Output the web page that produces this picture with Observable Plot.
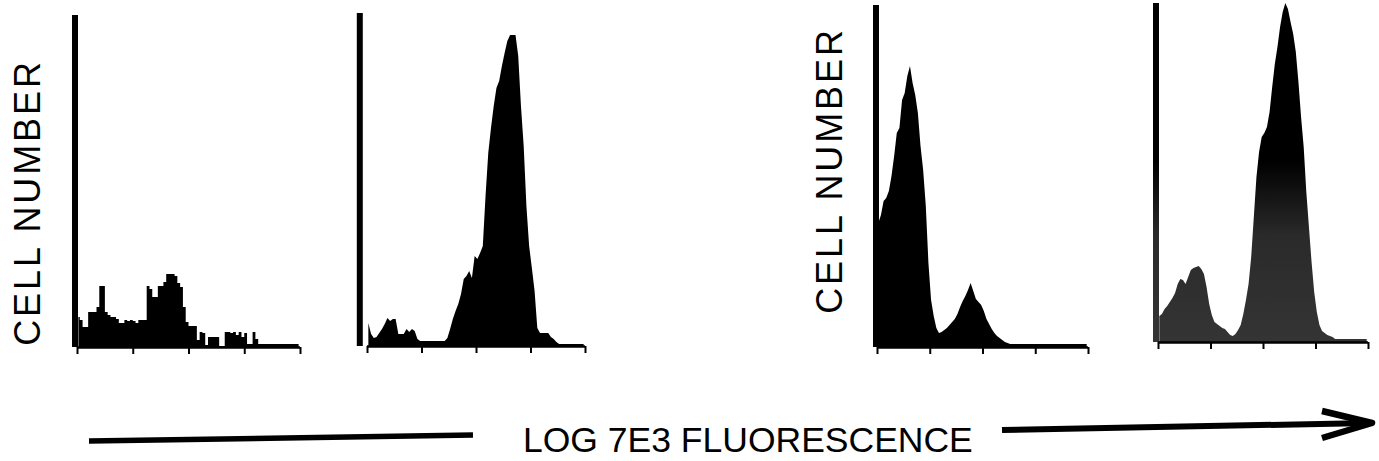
<!DOCTYPE html>
<html>
<head>
<meta charset="utf-8">
<script src="https://cdn.jsdelivr.net/npm/d3@7"></script>
<script src="https://cdn.jsdelivr.net/npm/@observablehq/plot@0.6"></script>
<style>
html, body { margin: 0; padding: 0; background: #fff; }
#chart { position: relative; width: 1379px; height: 461px; overflow: hidden; font-family: "Liberation Sans", Arial, Helvetica, sans-serif; }
#chart svg { position: absolute; left: 0; top: 0; }
</style>
</head>
<body>
<div id="chart"></div>
<script>
// ---- data ----
const binWidth = 0.05;                 // log decades per histogram channel
const tickDecades = [0, 1, 2, 3, 4];   // decade ticks on each x axis
const yLabel = "CELL NUMBER";
const xLabel = "LOG 7E3 FLUORESCENCE";
const fullScale = [332, 333, 342, 339]; // off-scale first channel (full y scale) per panel

const counts1 = [30, 27, 20, 20, 35, 35, 35, 40, 61, 61,
                 35, 32, 30, 30, 28, 24, 24, 27, 26, 27,
                 26, 24, 27, 27, 27, 61, 58, 50, 50, 61,
                 61, 65, 73, 73, 73, 71, 64, 60, 40, 25,
                 21, 21, 21, 7, 15, 14, 2, 10, 10, 10,
                 10, 1, 1, 15, 15, 14, 15, 12, 15, 10,
                 14, 3, 3, 15, 8, 3, 3, 3, 3, 3,
                 3, 3, 3, 3, 3, 3, 3, 3, 3, 3];

const counts2 = [23, 12, 8, 9, 13, 17, 22, 28, 25, 27,
                 27, 12, 12, 12, 17, 14, 17, 15, 7, 5,
                 5, 5, 5, 5, 5, 5, 5, 5, 5, 8,
                 17, 27, 35, 42, 52, 67, 70, 75, 68, 90,
                 87, 93, 100, 150, 193, 218, 240, 258, 265, 280,
                 293, 305, 311, 311, 311, 290, 240, 200, 140, 100,
                 78, 55, 18, 13, 13, 13, 13, 9, 7, 4,
                 2, 2, 2, 2, 2, 2, 2, 2, 2, 2];

const counts3 = [124, 132, 146, 149, 156, 171, 191, 214, 219, 247,
                 254, 271, 281, 264, 252, 234, 201, 177, 141, 84,
                 47, 31, 19, 14, 15, 17, 19, 22, 25, 28,
                 33, 40, 46, 51, 57, 64, 56, 48, 45, 42,
                 36, 28, 23, 18, 14, 11, 9, 7, 5, 4,
                 3, 3, 3, 3, 3, 3, 3, 3, 3, 3,
                 3, 3, 3, 3, 3, 3, 3, 3, 3, 3,
                 3, 3, 3, 3, 3, 3, 3, 3, 3, 3];

const counts4 = [26, 28, 33, 36, 40, 44, 49, 58, 63, 62,
                 58, 65, 72, 74, 75, 76, 73, 68, 55, 38,
                 27, 20, 18, 16, 14, 13, 10, 7, 6, 8,
                 12, 17, 28, 42, 58, 85, 125, 165, 190, 205,
                 209, 215, 230, 255, 278, 295, 315, 330, 339, 333,
                 320, 308, 290, 260, 225, 195, 150, 115, 80, 50,
                 30, 17, 11, 9, 7, 6, 5, 3, 3, 3,
                 3, 3, 3, 3, 3, 3, 3, 3, 3, 3];

// ---- layout (pixels) ----
const W = 1379, PH = 380;
const layout = [
  {x0: 77,   x1: 300,  top: 15, base: 347, ruleDx: -2.5, curve: "step",   fill: "black", labelDx: -49.5, labelDy: 21},
  {x0: 367,  x1: 585,  top: 13, base: 346, ruleDx: -7.7, curve: "linear", fill: "black", labelDx: null},
  {x0: 877,  x1: 1088, top: 5,  base: 347, ruleDx: -1.5, curve: "linear", fill: "black", labelDx: -47, labelDy: -6},
  {x0: 1158, x1: 1368, top: 3,  base: 342, ruleDx: -2.5, curve: "linear", fill: "url(#p4shade)", labelDx: null}
];
const panels = [counts1, counts2, counts3, counts4];
const chart = document.getElementById("chart");
const FONT = "'Liberation Sans', Arial, Helvetica, sans-serif";

panels.forEach((counts, p) => {
  const L = layout[p];
  const marks = [
    Plot.areaY(counts, {x: (d, i) => (i + 0.5) * binWidth, y: d => d, curve: L.curve, fill: L.fill}),
    Plot.ruleX([0], {y1: 0, y2: fullScale[p], dx: L.ruleDx, stroke: L.fill, strokeWidth: 6}),
    Plot.ruleY([0], {stroke: "black", strokeWidth: 2.5}),
    Plot.axisX(tickDecades, {anchor: "bottom", tickSize: 7, tickFormat: () => "", label: null, strokeWidth: 2, stroke: "black"})
  ];
  if (L.labelDx != null) {
    marks.push(Plot.text([yLabel], {
      frameAnchor: "left", text: d => d, rotate: -90,
      dx: L.labelDx, dy: L.labelDy, fontSize: 36,
      textAnchor: "middle", lineAnchor: "middle", fill: "black"
    }));
  }
  const svg = Plot.plot({
    width: W, height: PH,
    marginLeft: L.x0, marginRight: W - L.x1,
    marginTop: L.top, marginBottom: PH - L.base,
    x: {domain: [0, 4], axis: null},
    y: {domain: [0, fullScale[p]], axis: null},
    style: {background: "transparent", fontFamily: FONT, overflow: "visible"},
    marks
  });
  d3.select(svg).selectAll("text").attr("letter-spacing", 2.9);
  if (p === 3) {
    const g = d3.select(svg).insert("defs", ":first-child")
      .append("linearGradient").attr("id", "p4shade")
      .attr("gradientUnits", "userSpaceOnUse")
      .attr("x1", 0).attr("x2", 0).attr("y1", 0).attr("y2", PH);
    g.append("stop").attr("offset", 0).attr("stop-color", "#000");
    g.append("stop").attr("offset", 0.42).attr("stop-color", "#000");
    g.append("stop").attr("offset", 0.62).attr("stop-color", "#2a2a2a");
    g.append("stop").attr("offset", 1).attr("stop-color", "#383838");
  }
  chart.appendChild(svg);
});

// ---- caption: axis title with lines and arrow ----
const cap = d3.select(chart).append("svg")
  .attr("width", W).attr("height", 81)
  .style("top", "380px");
cap.append("line").attr("x1", 89).attr("y1", 61).attr("x2", 473).attr("y2", 55)
  .attr("stroke", "black").attr("stroke-width", 5.5);
cap.append("text").attr("x", 523).attr("y", 72)
  .attr("font-size", 35.5).attr("font-family", FONT)
  .attr("fill", "black").text(xLabel);
cap.append("line").attr("x1", 1002).attr("y1", 50).attr("x2", 1370).attr("y2", 43)
  .attr("stroke", "black").attr("stroke-width", 6);
cap.append("polyline").attr("points", "1322,31 1372,43 1322,58")
  .attr("fill", "none").attr("stroke", "black").attr("stroke-width", 6.5)
  .attr("stroke-linejoin", "round");
</script>
</body>
</html>
